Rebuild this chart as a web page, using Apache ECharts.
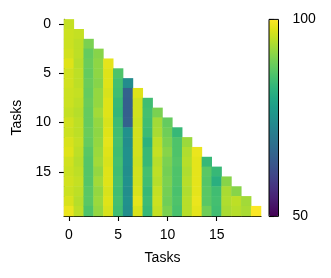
<!DOCTYPE html>
<html>
<head>
<meta charset="utf-8">
<script src="https://cdn.jsdelivr.net/npm/echarts@6/dist/echarts.min.js"></script>
<style>
html,body{margin:0;padding:0;background:#fff;}
#chart{width:331px;height:278px;}
</style>
</head>
<body>
<div id="chart"></div>
<script>
// Task indices (categories on both axes)
const tasks = Array.from({length: 20}, (_, i) => String(i));
// Tick labels shown on both axes
const tickLabels = ['0', '5', '10', '15'];
// Colour bar range
const colorMin = 50;
const colorMax = 100;
const colorTicks = [50, 100];

// Lower-triangular matrix, stored column by column:
// columnValues[c][k] is the value at row (c + k), column c
const col0 = [95.5, 96, 96, 96.5, 97.5, 96.5, 96.5, 96, 96, 95.5, 96.5, 96, 97, 97.5, 96.5, 96, 96.5, 96, 97, 98.5];
const col1 = [95.5, 95, 95, 94.5, 95, 95, 95.5, 95, 94.5, 95, 95, 95.5, 95, 94.5, 95, 95.5, 95, 94.5, 95];
const col2 = [90, 88, 88.5, 88, 88.5, 88, 88.5, 88, 88, 88.5, 88, 87, 86.5, 86.5, 86.5, 87, 87, 86];
const col3 = [91, 91.5, 91.5, 91, 92, 92, 93, 92, 91.5, 92, 92.5, 93, 92, 93, 92, 92.5, 92];
const col4 = [98, 97.5, 97.5, 97, 97.5, 97.5, 97, 97.5, 98, 97.5, 97, 97.5, 97.5, 97, 97.5, 97];
const col5 = [86, 85, 84.5, 83.5, 83, 84, 84.5, 85, 84.5, 85, 84.5, 85, 84.5, 85, 84.5];
const col6 = [74, 65.5, 65, 65, 65.5, 75, 74.5, 75, 75, 74.5, 75, 74.5, 75, 74.5];
const col7 = [97.5, 96.5, 96.5, 96, 96.5, 96.5, 96.5, 96, 96.5, 96.5, 97, 98, 97];
const col8 = [84.5, 85, 84.5, 84, 82, 83.5, 83.5, 85, 84.5, 83.5, 84, 83.5];
const col9 = [90, 93, 93.5, 95, 95.5, 94.5, 95, 94.5, 95.5, 96, 95.5];
const col10 = [88, 89, 90, 91, 90, 89.5, 90, 89.5, 89, 90];
const col11 = [83.5, 86, 86, 86.5, 86, 86, 85.5, 86, 85.5];
const col12 = [92.5, 94, 94.5, 94, 94.5, 94, 94.5, 94.5];
const col13 = [98.5, 98, 98, 98, 98, 98.5, 98];
const col14 = [83.5, 87, 86.5, 87, 87, 89];
const col15 = [83.5, 81.5, 84.5, 85, 84.5];
const col16 = [91, 93.5, 94, 93.5];
const col17 = [91, 95, 94.5];
const col18 = [93, 93.5];
const col19 = [99.8];
const columnValues = [col0, col1, col2, col3, col4, col5, col6, col7, col8, col9,
  col10, col11, col12, col13, col14, col15, col16, col17, col18, col19];

const viridis = ['#440154','#471365','#482475','#463480','#414487','#3b528b','#355f8d',
  '#2f6c8e','#2a788e','#25848e','#21918c','#1e9c89','#22a884','#2fb47c','#44bf70',
  '#5ec962','#7ad151','#9bd93c','#bddf26','#dfe318','#fde725'];

const data = [];
columnValues.forEach((col, c) => {
  col.forEach((v, k) => data.push([c, c + k, v]));
});

const FONT = 'Liberation Sans, Arial, sans-serif';
const showTick = (i, v) => tickLabels.indexOf(String(v)) >= 0;

const chart = echarts.init(document.getElementById('chart'), null, {renderer: 'canvas'});
chart.setOption({
  animation: false,
  backgroundColor: '#ffffff',
  grid: [
    {left: 64, top: 19.4, width: 197, height: 196.6},
    {left: 269, top: 19.4, width: 9.5, height: 197, show: true, z: 10,
     backgroundColor: 'transparent', borderColor: '#000', borderWidth: 1}
  ],
  xAxis: [
    {
      type: 'category', data: tasks, gridIndex: 0, position: 'bottom',
      name: 'Tasks', nameLocation: 'middle', nameGap: 35,
      nameTextStyle: {fontSize: 14, color: '#000', fontFamily: FONT},
      axisLine: {show: true, lineStyle: {color: '#000', width: 1.1}},
      axisTick: {show: true, alignWithLabel: true, interval: showTick, length: 5, lineStyle: {color: '#000', width: 1.1}},
      axisLabel: {show: true, interval: showTick, fontSize: 14, color: '#000', fontFamily: FONT, margin: 12},
      splitLine: {show: false}
    },
    {type: 'value', gridIndex: 1, show: false, min: 0, max: 1}
  ],
  yAxis: [
    {
      type: 'category', data: tasks, gridIndex: 0, inverse: true,
      name: 'Tasks', nameLocation: 'middle', nameGap: 31,
      nameTextStyle: {fontSize: 14, color: '#000', fontFamily: FONT},
      axisLine: {show: true, lineStyle: {color: '#000', width: 1.1}},
      axisTick: {show: true, alignWithLabel: true, interval: showTick, length: 5, lineStyle: {color: '#000', width: 1.1}},
      axisLabel: {show: true, interval: showTick, fontSize: 14, color: '#000', fontFamily: FONT, margin: 13},
      splitLine: {show: false}
    },
    {
      type: 'value', gridIndex: 1, position: 'right', min: colorMin, max: colorMax,
      interval: colorMax - colorMin,
      axisLine: {show: false},
      axisTick: {show: true, length: 5, lineStyle: {color: '#000', width: 1.1}},
      axisLabel: {show: true, fontSize: 14, color: '#000', fontFamily: FONT, margin: 14,
        formatter: v => colorTicks.indexOf(v) >= 0 ? String(v) : ''},
      splitLine: {show: false}
    }
  ],
  visualMap: {
    type: 'continuous', seriesIndex: 0, min: colorMin, max: colorMax,
    calculable: false, show: true, orient: 'vertical',
    left: 269, top: 19.4, itemWidth: 9.5, itemHeight: 197, padding: 0,
    inRange: {color: viridis}, hoverLink: false
  },
  series: [{
    type: 'heatmap', xAxisIndex: 0, yAxisIndex: 0, data: data,
    itemStyle: {borderWidth: 0},
    emphasis: {disabled: true}
  }]
});
</script>
</body>
</html>
